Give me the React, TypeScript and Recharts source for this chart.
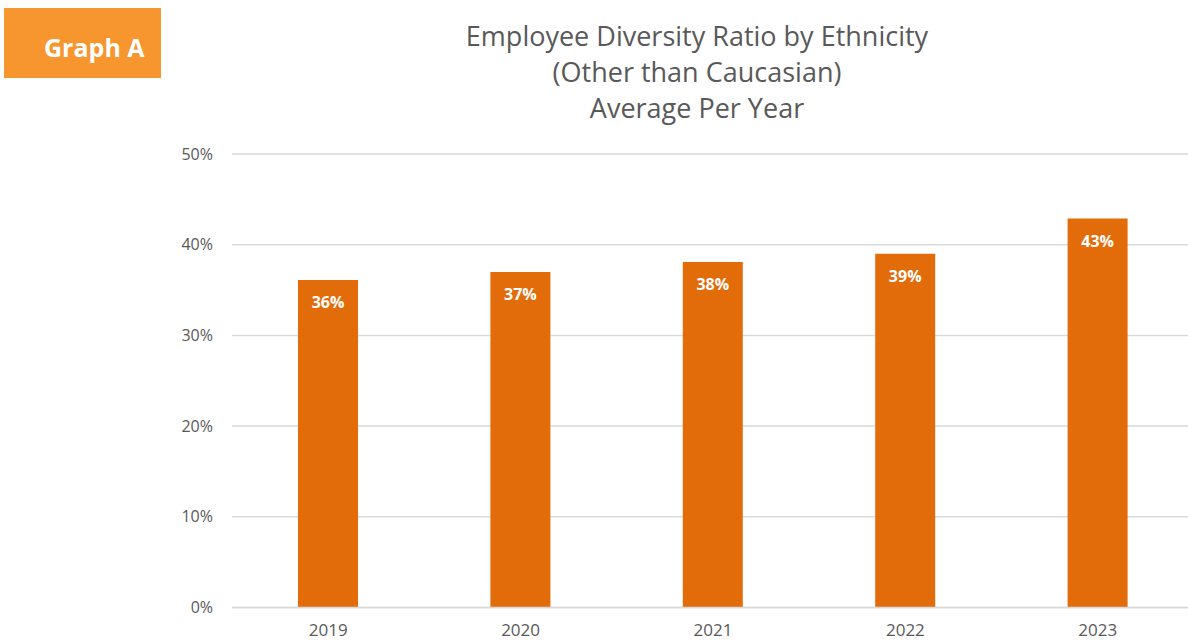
import React from 'react';
import { BarChart, Bar, XAxis, YAxis, CartesianGrid, LabelList } from 'recharts';

// values
const years = ['2019', '2020', '2021', '2022', '2023'];
const ratio = [36.1, 37.0, 38.1, 39.0, 42.9];
const yTicks = [0, 10, 20, 30, 40, 50];
const titleLines = ['Employee Diversity Ratio by Ethnicity', '(Other than Caucasian)', 'Average Per Year'];

const rows = years.map((year, i) => ({ year, ratio: ratio[i] }));

const FONT = '"Open Sans", sans-serif';
const GREY = '#595959';

export default function App() {
  return (
    <div
      style={{
        position: 'absolute',
        left: 0,
        top: 0,
        width: 1188,
        height: 641,
        overflow: 'hidden',
        background: '#fff',
        fontFamily: FONT,
      }}
    >
      {/* orange tag box */}
      <div style={{ position: 'absolute', left: 4, top: 8, width: 157, height: 70, background: '#F7952F' }}>
        <span
          style={{
            position: 'absolute',
            left: 40,
            top: 27,
            fontSize: 25,
            lineHeight: '25px',
            fontWeight: 700,
            color: '#fff',
            whiteSpace: 'nowrap',
          }}
        >
          Graph A
        </span>
      </div>

      <div
        style={{
          position: 'absolute',
          left: 397,
          top: 18,
          width: 600,
          textAlign: 'center',
          fontSize: 27,
          lineHeight: '36px',
          color: GREY,
        }}
      >
        {titleLines.map((t) => (
          <div key={t}>{t}</div>
        ))}
      </div>

      <div style={{ position: 'absolute', left: 0, top: 0 }}>
        <BarChart width={1200} height={641} data={rows} margin={{ top: 154, right: 6, bottom: 0, left: 0 }}>
          <CartesianGrid vertical={false} stroke="#D9D9D9" strokeWidth={1.5} />
          <XAxis
            dataKey="year"
            height={33.5}
            axisLine={{ stroke: '#D9D9D9', strokeWidth: 1.5 }}
            tickLine={false}
            tickSize={0}
            tickMargin={16}
            tick={{ fill: GREY, fontSize: 17, fontFamily: FONT }}
          />
          <YAxis
            width={232}
            domain={[0, 50]}
            ticks={yTicks}
            axisLine={false}
            tickLine={false}
            tickSize={0}
            tickMargin={19}
            tickFormatter={(v: number) => `${v}%`}
            tick={{ fill: GREY, fontSize: 16, fontFamily: FONT }}
          />
          <Bar dataKey="ratio" fill="#E36C0A" barSize={60} isAnimationActive={false}>
            <LabelList
              dataKey="ratio"
              position="insideTop"
              offset={17}
              formatter={(v: number) => `${Math.round(v)}%`}
              style={{ fill: '#fff', fontSize: 16, fontWeight: 700, fontFamily: FONT }}
            />
          </Bar>
        </BarChart>
      </div>
    </div>
  );
}
